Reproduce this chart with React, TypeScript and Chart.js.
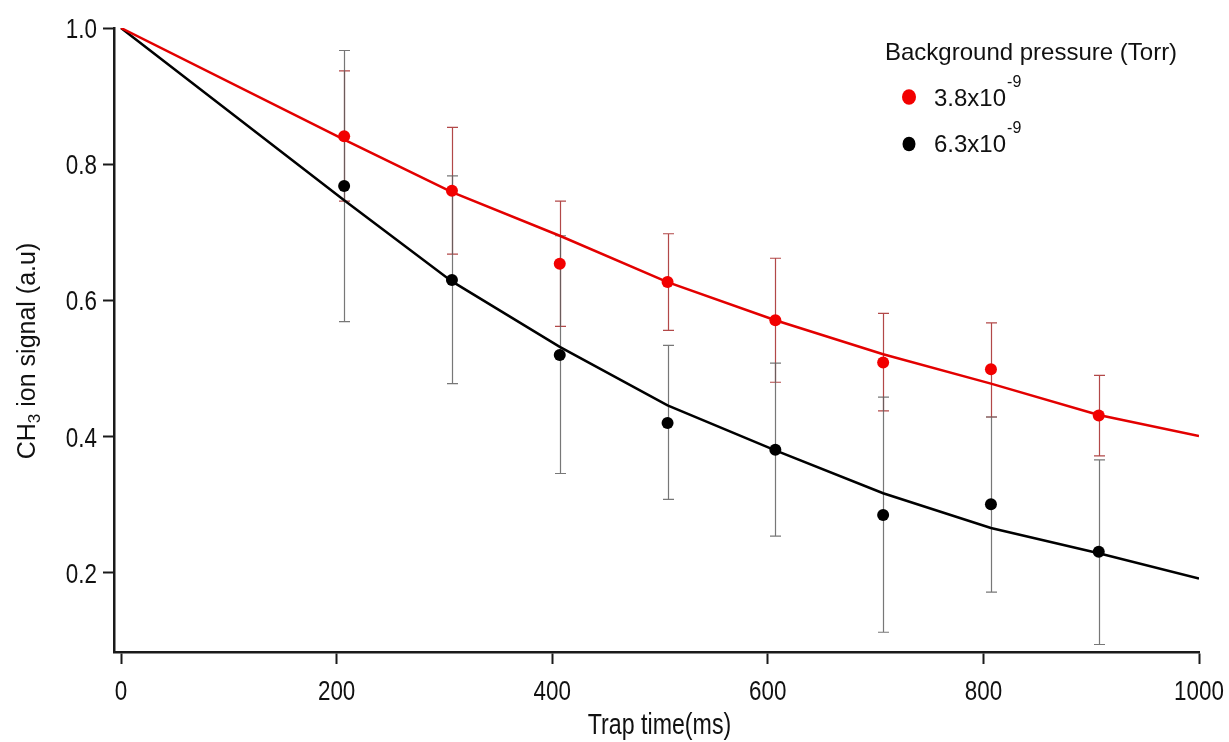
import { useEffect, useRef } from 'react';
import { Chart, registerables } from 'chart.js';

Chart.register(...registerables);

// Measured trap times (ms)
const trapTimes = [207, 307, 407, 507, 607, 707, 807, 907];

// 3.8x10^-9 Torr: mean signal with error bar limits
const lowPressure = [0.841, 0.761, 0.654, 0.627, 0.571, 0.509, 0.499, 0.431];
const lowPressureUpper = [0.937, 0.854, 0.746, 0.698, 0.662, 0.581, 0.567, 0.49];
const lowPressureLower = [0.746, 0.668, 0.562, 0.556, 0.48, 0.438, 0.429, 0.372];

// 6.3x10^-9 Torr: mean signal with error bar limits
const highPressure = [0.768, 0.63, 0.52, 0.42, 0.381, 0.285, 0.301, 0.231];
const highPressureUpper = [0.967, 0.783, 0.695, 0.534, 0.508, 0.458, 0.429, 0.366];
const highPressureLower = [0.569, 0.478, 0.346, 0.308, 0.254, 0.113, 0.172, 0.095];

// Fitted decay curves
const fitTimes = [0, 207, 307, 407, 507, 607, 707, 807, 907, 1000];
const lowPressureFit = [1.0, 0.836, 0.759, 0.695, 0.627, 0.571, 0.521, 0.478, 0.432, 0.401];
const highPressureFit = [1.0, 0.747, 0.628, 0.532, 0.446, 0.38, 0.317, 0.266, 0.229, 0.192];

// Axis ticks
const xTicks = [0, 200, 400, 600, 800, 1000];
const yTicks = [0.2, 0.4, 0.6, 0.8, 1.0];
const xTickLabels = ['0', '200', '400', '600', '800', '1000'];
const yTickLabels = ['0.2', '0.4', '0.6', '0.8', '1.0'];

// Legend
const legendTitle = 'Background pressure (Torr)';
const legendMantissas = ['3.8x10', '6.3x10'];
const legendExponent = '-9';

const RED_LINE = '#e30000';
const RED_POINT = '#f20000';
const BLACK = '#000000';
const AXIS = '#1a1a1a';
const TEXT = '#111111';
const SANS = "'Liberation Sans', Arial, sans-serif";
// horizontal squeeze used for the condensed axis lettering
const NARROW_SCALE = 0.8;

const toPoints = (xs: number[], ys: number[]) => xs.map((x, i) => ({ x, y: ys[i] }));

const narrowText = (ctx: any, text: string, x: number, y: number, size: number, align: string) => {
  ctx.save();
  ctx.translate(x, y);
  ctx.scale(NARROW_SCALE, 1);
  ctx.font = `${size}px ${SANS}`;
  ctx.textAlign = align;
  ctx.textBaseline = 'alphabetic';
  ctx.fillText(text, 0, 0);
  ctx.restore();
};

const errorBars = {
  id: 'errorBars',
  beforeDatasetsDraw(chart: any) {
    const { ctx } = chart;
    const xs = chart.scales.x;
    const ys = chart.scales.y;
    const groups = [
      { lo: lowPressureLower, hi: lowPressureUpper, color: 'rgba(165, 40, 40, 0.85)' },
      { lo: highPressureLower, hi: highPressureUpper, color: 'rgba(95, 95, 95, 0.85)' },
    ];
    ctx.save();
    ctx.lineWidth = 1.2;
    groups.forEach((g) => {
      ctx.strokeStyle = g.color;
      trapTimes.forEach((t, i) => {
        const px = Math.round(xs.getPixelForValue(t)) + 0.5;
        const top = ys.getPixelForValue(g.hi[i]);
        const bot = ys.getPixelForValue(g.lo[i]);
        ctx.beginPath();
        ctx.moveTo(px, top);
        ctx.lineTo(px, bot);
        ctx.moveTo(px - 5.5, top);
        ctx.lineTo(px + 5.5, top);
        ctx.moveTo(px - 5.5, bot);
        ctx.lineTo(px + 5.5, bot);
        ctx.stroke();
      });
    });
    ctx.restore();
  },
};

const labels = {
  id: 'labels',
  afterDraw(chart: any) {
    const { ctx, chartArea } = chart;
    const xs = chart.scales.x;
    const ys = chart.scales.y;
    ctx.save();
    ctx.fillStyle = TEXT;

    // tick labels
    xTicks.forEach((v, i) => {
      narrowText(ctx, xTickLabels[i], xs.getPixelForValue(v), 700, 28, 'center');
    });
    yTicks.forEach((v, i) => {
      narrowText(ctx, yTickLabels[i], 97, ys.getPixelForValue(v) + 10, 28, 'right');
    });

    // x-axis title
    narrowText(ctx, 'Trap time(ms)', (chartArea.left + chartArea.right) / 2 + 3, 734, 29, 'center');

    // y-axis title with subscript
    ctx.save();
    ctx.translate(35, 351);
    ctx.rotate(-Math.PI / 2);
    ctx.textAlign = 'left';
    ctx.textBaseline = 'alphabetic';
    const main = `25px ${SANS}`;
    const sub = `17px ${SANS}`;
    ctx.font = main;
    const wCH = ctx.measureText('CH').width;
    const wRest = ctx.measureText(' ion signal (a.u)').width;
    ctx.font = sub;
    const w3 = ctx.measureText('3').width;
    let x = -(wCH + w3 + wRest) / 2;
    ctx.font = main;
    ctx.fillText('CH', x, 0);
    x += wCH;
    ctx.font = sub;
    ctx.fillText('3', x, 5);
    x += w3;
    ctx.font = main;
    ctx.fillText(' ion signal (a.u)', x, 0);
    ctx.restore();

    // legend
    ctx.textAlign = 'left';
    ctx.textBaseline = 'alphabetic';
    ctx.font = `24px ${SANS}`;
    ctx.fillText(legendTitle, 885, 60);
    const rows = [
      { color: RED_POINT, r: 7, cy: 97, base: 106 },
      { color: BLACK, r: 6.5, cy: 144, base: 152 },
    ];
    rows.forEach((row, i) => {
      ctx.fillStyle = row.color;
      ctx.beginPath();
      ctx.ellipse(909, row.cy, row.r, row.r * 1.12, 0, 0, Math.PI * 2);
      ctx.fill();
      ctx.fillStyle = TEXT;
      ctx.font = `24px ${SANS}`;
      ctx.fillText(legendMantissas[i], 934, row.base);
      const w = ctx.measureText(legendMantissas[i]).width;
      ctx.font = `16px ${SANS}`;
      ctx.fillText(legendExponent, 934 + w + 1, row.base - 19);
    });
    ctx.restore();
  },
};

export default function App() {
  const canvasRef = useRef<HTMLCanvasElement | null>(null);

  useEffect(() => {
    if (!canvasRef.current) return;
    const chart = new Chart(canvasRef.current, {
      type: 'scatter',
      data: {
        datasets: [
          {
            label: '3.8x10^-9 points',
            data: toPoints(trapTimes, lowPressure),
            backgroundColor: RED_POINT,
            borderWidth: 0,
            pointRadius: 6,
            order: 0,
          },
          {
            label: '6.3x10^-9 points',
            data: toPoints(trapTimes, highPressure),
            backgroundColor: BLACK,
            borderWidth: 0,
            pointRadius: 6,
            order: 0,
          },
          {
            type: 'line',
            label: '3.8x10^-9 fit',
            data: toPoints(fitTimes, lowPressureFit),
            borderColor: RED_LINE,
            borderWidth: 2.5,
            pointRadius: 0,
            tension: 0,
            fill: false,
            order: 1,
          },
          {
            type: 'line',
            label: '6.3x10^-9 fit',
            data: toPoints(fitTimes, highPressureFit),
            borderColor: BLACK,
            borderWidth: 2.5,
            pointRadius: 0,
            tension: 0,
            fill: false,
            order: 1,
          },
        ] as any,
      },
      options: {
        responsive: false,
        animation: false,
        events: [],
        layout: { padding: { top: 28, right: 30, left: 0, bottom: 0 } },
        plugins: {
          legend: { display: false },
          tooltip: { enabled: false },
          title: { display: false },
        },
        scales: {
          x: {
            type: 'linear',
            min: -6.5,
            max: 1000,
            afterBuildTicks: (s: any) => {
              s.ticks = xTicks.map((v) => ({ value: v }));
            },
            afterFit: (s: any) => {
              s.height = 90;
            },
            grid: {
              display: true,
              drawOnChartArea: false,
              drawTicks: true,
              tickLength: 12,
              tickWidth: 2,
              tickColor: AXIS,
            },
            border: { display: true, color: AXIS, width: 2.5 },
            ticks: { display: false },
          },
          y: {
            type: 'linear',
            min: 0.084,
            max: 1.0,
            afterBuildTicks: (s: any) => {
              s.ticks = yTicks.map((v) => ({ value: v }));
            },
            afterFit: (s: any) => {
              s.width = 114;
            },
            grid: {
              display: true,
              drawOnChartArea: false,
              drawTicks: true,
              tickLength: 11,
              tickWidth: 2,
              tickColor: AXIS,
            },
            border: { display: true, color: AXIS, width: 2.5 },
            ticks: { display: false },
          },
        },
      } as any,
      plugins: [errorBars, labels],
    });
    return () => chart.destroy();
  }, []);

  return (
    <div style={{ position: 'absolute', left: 0, top: 0, width: 1229, height: 742, background: '#fff' }}>
      <canvas ref={canvasRef} width={1229} height={742} style={{ display: 'block' }} />
    </div>
  );
}
